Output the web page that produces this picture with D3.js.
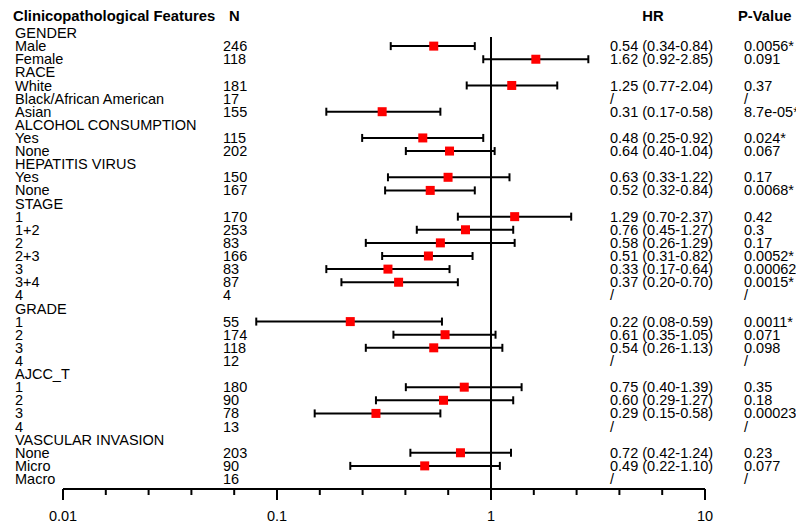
<!DOCTYPE html>
<html>
<head>
<meta charset="utf-8">
<script src="https://cdn.jsdelivr.net/npm/d3@7"></script>
<style>
  html, body { margin: 0; padding: 0; background: #fff; }
  svg { display: block; }
  text { font-family: "Liberation Sans", Arial, sans-serif; fill: #000; }
</style>
</head>
<body>
<svg id="chart" width="796" height="527"></svg>
<script>
// Row labels (group headers are flagged separately)
const labels = [
  "GENDER", "Male", "Female",
  "RACE", "White", "Black/African American", "Asian",
  "ALCOHOL CONSUMPTION", "Yes", "None",
  "HEPATITIS VIRUS", "Yes", "None",
  "STAGE", "1", "1+2", "2", "2+3", "3", "3+4", "4",
  "GRADE", "1", "2", "3", "4",
  "AJCC_T", "1", "2", "3", "4",
  "VASCULAR INVASION", "None", "Micro", "Macro"
];
const isHeader = [
  1, 0, 0,
  1, 0, 0, 0,
  1, 0, 0,
  1, 0, 0,
  1, 0, 0, 0, 0, 0, 0, 0,
  1, 0, 0, 0, 0,
  1, 0, 0, 0, 0,
  1, 0, 0, 0
];
const nValues = [
  null, 246, 118,
  null, 181, 17, 155,
  null, 115, 202,
  null, 150, 167,
  null, 170, 253, 83, 166, 83, 87, 4,
  null, 55, 174, 118, 12,
  null, 180, 90, 78, 13,
  null, 203, 90, 16
];
const hr = [
  null, 0.54, 1.62,
  null, 1.25, null, 0.31,
  null, 0.48, 0.64,
  null, 0.63, 0.52,
  null, 1.29, 0.76, 0.58, 0.51, 0.33, 0.37, null,
  null, 0.22, 0.61, 0.54, null,
  null, 0.75, 0.60, 0.29, null,
  null, 0.72, 0.49, null
];
const lower = [
  null, 0.34, 0.92,
  null, 0.77, null, 0.17,
  null, 0.25, 0.40,
  null, 0.33, 0.32,
  null, 0.70, 0.45, 0.26, 0.31, 0.17, 0.20, null,
  null, 0.08, 0.35, 0.26, null,
  null, 0.40, 0.29, 0.15, null,
  null, 0.42, 0.22, null
];
const upper = [
  null, 0.84, 2.85,
  null, 2.04, null, 0.58,
  null, 0.92, 1.04,
  null, 1.22, 0.84,
  null, 2.37, 1.27, 1.29, 0.82, 0.64, 0.70, null,
  null, 0.59, 1.05, 1.13, null,
  null, 1.39, 1.27, 0.58, null,
  null, 1.24, 1.10, null
];
const pValues = [
  null, "0.0056*", "0.091",
  null, "0.37", "/", "8.7e-05*",
  null, "0.024*", "0.067",
  null, "0.17", "0.0068*",
  null, "0.42", "0.3", "0.17", "0.0052*", "0.00062", "0.0015*", "/",
  null, "0.0011*", "0.071", "0.098", "/",
  null, "0.35", "0.18", "0.00023", "/",
  null, "0.23", "0.077", "/"
];
const axisTickLabels = ["0.01", "0.1", "1", "10"];

const svg = d3.select("#chart");
const FS = 14.5;

const x = d3.scaleLog().domain([0.01, 10]).range([63, 705]);
const y = d3.scalePoint().domain(d3.range(labels.length)).range([33, 479]);

const rows = labels.map((label, i) => ({
  i, label, header: !!isHeader[i], n: nValues[i],
  hr: hr[i], lo: lower[i], hi: upper[i], p: pValues[i]
}));

// Column headings
const head = svg.append("g").attr("font-weight", "bold").attr("font-size", 14.8);
head.append("text").attr("x", 13).attr("y", 16).attr("dy", "0.35em").text("Clinicopathological Features");
head.append("text").attr("x", 229).attr("y", 16).attr("dy", "0.35em").text("N");
head.append("text").attr("x", 653).attr("y", 16).attr("dy", "0.35em").attr("text-anchor", "middle").text("HR");
head.append("text").attr("x", 738).attr("y", 16).attr("dy", "0.35em").text("P-Value");

// Text columns
const txt = svg.append("g").attr("font-size", FS);
txt.selectAll("text.lab").data(rows).join("text")
  .attr("class", "lab").attr("x", 15).attr("y", d => y(d.i)).attr("dy", "0.35em")
  .text(d => d.label);
txt.selectAll("text.n").data(rows.filter(d => d.n != null)).join("text")
  .attr("class", "n").attr("x", 223).attr("y", d => y(d.i)).attr("dy", "0.35em")
  .text(d => d.n);
txt.selectAll("text.hr").data(rows.filter(d => !d.header)).join("text")
  .attr("class", "hr").attr("x", 610).attr("y", d => y(d.i)).attr("dy", "0.35em")
  .text(d => d.hr == null ? "/" :
    `${d.hr.toFixed(2)} (${d.lo.toFixed(2)}-${d.hi.toFixed(2)})`);
txt.selectAll("text.p").data(rows.filter(d => d.p != null)).join("text")
  .attr("class", "p").attr("x", 744).attr("y", d => y(d.i)).attr("dy", "0.35em")
  .text(d => d.p);

// Axis
const axisY = 489;
const majors = [0.01, 0.1, 1, 10];
const minors = d3.range(0, 16).map(k => Math.pow(10, -2 + k / 5)).filter(v => !majors.some(m => Math.abs(m - v) / m < 1e-6));
const ax = svg.append("g").attr("stroke", "#000").attr("stroke-width", 2);
ax.append("line").attr("x1", x(0.01)).attr("x2", x(10)).attr("y1", axisY).attr("y2", axisY);
ax.selectAll("line.maj").data(majors).join("line").attr("class", "maj")
  .attr("x1", d => x(d)).attr("x2", d => x(d)).attr("y1", axisY).attr("y2", axisY + 11);
ax.selectAll("line.min").data(minors).join("line").attr("class", "min")
  .attr("x1", d => x(d)).attr("x2", d => x(d)).attr("y1", axisY).attr("y2", axisY + 6);
svg.append("g").attr("font-size", FS).selectAll("text").data(majors).join("text")
  .attr("x", d => x(d)).attr("y", 516).attr("dy", "0.35em").attr("text-anchor", "middle")
  .text((d, i) => axisTickLabels[i]);

// Reference line at HR = 1
svg.append("line").attr("x1", x(1)).attr("x2", x(1)).attr("y1", 37).attr("y2", 500)
  .attr("stroke", "#000").attr("stroke-width", 2);

// Confidence intervals and point estimates
const est = rows.filter(d => d.hr != null);
const ci = svg.append("g").attr("stroke", "#000").attr("stroke-width", 2);
ci.selectAll("line.ci").data(est).join("line").attr("class", "ci")
  .attr("x1", d => x(d.lo)).attr("x2", d => x(d.hi)).attr("y1", d => y(d.i)).attr("y2", d => y(d.i));
ci.selectAll("line.capL").data(est).join("line").attr("class", "capL")
  .attr("x1", d => x(d.lo)).attr("x2", d => x(d.lo)).attr("y1", d => y(d.i) - 4).attr("y2", d => y(d.i) + 4);
ci.selectAll("line.capR").data(est).join("line").attr("class", "capR")
  .attr("x1", d => x(d.hi)).attr("x2", d => x(d.hi)).attr("y1", d => y(d.i) - 4).attr("y2", d => y(d.i) + 4);
svg.append("g").selectAll("rect").data(est).join("rect")
  .attr("x", d => x(d.hr) - 4.5).attr("y", d => y(d.i) - 4.5)
  .attr("width", 9).attr("height", 9).attr("fill", "#ff0000");
</script>
</body>
</html>
